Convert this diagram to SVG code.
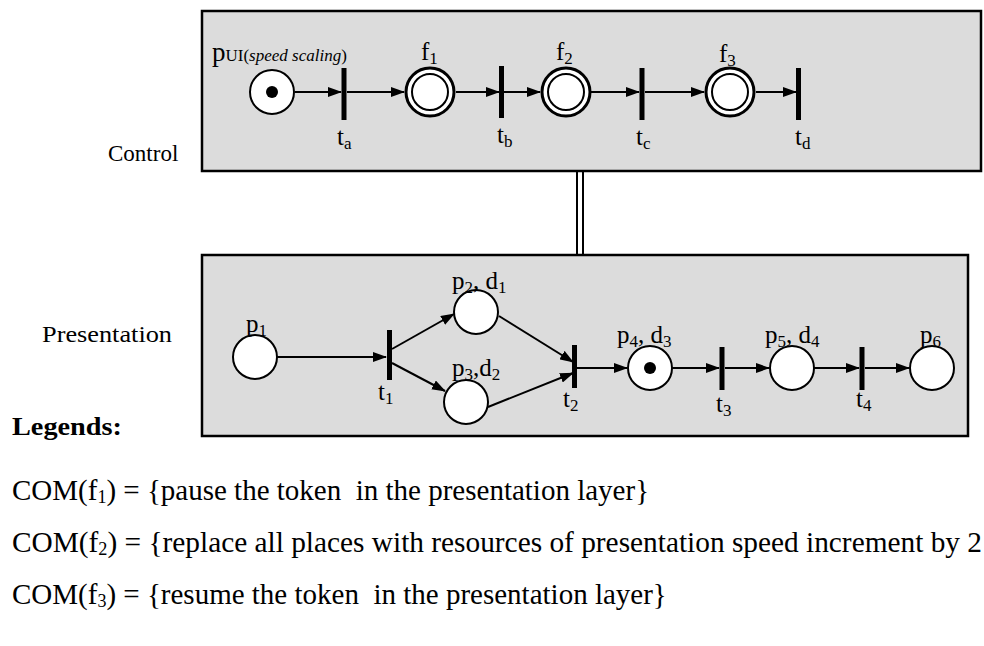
<svg xmlns="http://www.w3.org/2000/svg" width="984" height="646" viewBox="0 0 984 646">
<style>
text{font-family:"Liberation Serif","Times New Roman",serif;fill:#000}
.lbl{font-size:25px}
.sub{font-size:17px}
.box{fill:#dcdcdc;stroke:#000;stroke-width:2.5}
.pl{fill:#fff;stroke:#000;stroke-width:2}
.out{fill:#fff;stroke:#000;stroke-width:3}
.tr{fill:#000}
.arc{stroke:#000;stroke-width:2;fill:none;marker-end:url(#ah)}
.leg{font-size:29px}
.lsub{font-size:18px}
</style>
<defs>
<marker id="ah" markerWidth="14" markerHeight="10" refX="13" refY="5" orient="auto" markerUnits="userSpaceOnUse">
<path d="M0,0 L14,5 L0,10 Z" fill="#000"/>
</marker>
</defs>
<rect width="984" height="646" fill="#fff"/>
<g id="control-layer">
<rect class="box" x="202" y="11" width="779" height="160"/>
<text x="108" y="161" font-size="23">Control</text>
</g>
<g id="presentation-layer">
<rect class="box" x="202" y="255" width="766" height="181"/>
<text x="42" y="342" font-size="24" textLength="130" lengthAdjust="spacingAndGlyphs">Presentation</text>
</g>
<g id="link">
<line x1="577" y1="171" x2="577" y2="255" stroke="#000" stroke-width="2"/>
<line x1="583" y1="171" x2="583" y2="255" stroke="#000" stroke-width="2"/>
</g>
<g id="connectors">
<line class="arc" x1="295" y1="92" x2="341" y2="92"/>
<line class="arc" x1="347" y1="92" x2="404" y2="92"/>
<line class="arc" x1="456" y1="92" x2="499" y2="92"/>
<line class="arc" x1="504" y1="92" x2="540" y2="92"/>
<line class="arc" x1="591" y1="92" x2="639" y2="92"/>
<line class="arc" x1="645" y1="92" x2="704" y2="92"/>
<line class="arc" x1="756" y1="92" x2="796" y2="92"/>
<line class="arc" x1="277" y1="357" x2="386" y2="357"/>
<line class="arc" x1="392" y1="349" x2="454" y2="314"/>
<line class="arc" x1="392" y1="363" x2="445" y2="391"/>
<line class="arc" x1="499" y1="316" x2="573" y2="362"/>
<line class="arc" x1="488" y1="407" x2="573" y2="373"/>
<line class="arc" x1="577" y1="368" x2="627" y2="368"/>
<line class="arc" x1="672" y1="368" x2="719" y2="368"/>
<line class="arc" x1="725" y1="368" x2="769" y2="368"/>
<line class="arc" x1="814" y1="368" x2="859" y2="368"/>
<line class="arc" x1="865" y1="368" x2="909" y2="368"/>
</g>
<g id="pUI">
<circle class="pl" cx="272" cy="92" r="22"/>
<circle cx="272" cy="92" r="6" fill="#000"/>
<text x="212" y="61"><tspan font-size="27">p</tspan><tspan font-size="17">UI(</tspan><tspan font-size="17" font-style="italic">speed scaling</tspan><tspan font-size="17">)</tspan></text>
</g>
<g id="ta">
<rect class="tr" x="341.5" y="68" width="5" height="52"/>
<text class="lbl" x="337" y="145">t<tspan class="sub" dy="4">a</tspan></text>
</g>
<g id="f1">
<circle class="out" cx="430" cy="92" r="24"/>
<circle class="pl" cx="430" cy="92" r="18"/>
<text class="lbl" x="421" y="60">f<tspan class="sub" dy="4">1</tspan></text>
</g>
<g id="tb">
<rect class="tr" x="499" y="66" width="5" height="52"/>
<text class="lbl" x="497" y="143">t<tspan class="sub" dy="4">b</tspan></text>
</g>
<g id="f2">
<circle class="out" cx="566" cy="92" r="24"/>
<circle class="pl" cx="566" cy="92" r="18"/>
<text class="lbl" x="556" y="60">f<tspan class="sub" dy="4">2</tspan></text>
</g>
<g id="tc">
<rect class="tr" x="639.5" y="68" width="5" height="52"/>
<text class="lbl" x="636" y="145">t<tspan class="sub" dy="4">c</tspan></text>
</g>
<g id="f3">
<circle class="out" cx="730" cy="92" r="24"/>
<circle class="pl" cx="730" cy="92" r="18"/>
<text class="lbl" x="719" y="62">f<tspan class="sub" dy="4">3</tspan></text>
</g>
<g id="td">
<rect class="tr" x="796" y="68" width="5" height="52"/>
<text class="lbl" x="795" y="145">t<tspan class="sub" dy="4">d</tspan></text>
</g>
<g id="p1">
<circle class="pl" cx="255" cy="357" r="22"/>
<text class="lbl" x="246" y="332">p<tspan class="sub" dy="4">1</tspan></text>
</g>
<g id="t1">
<rect class="tr" x="387" y="330" width="5" height="50"/>
<text class="lbl" x="378" y="400">t<tspan class="sub" dy="4">1</tspan></text>
</g>
<g id="p2">
<circle class="pl" cx="476" cy="312" r="22"/>
<text class="lbl" x="452" y="289">p<tspan class="sub" dy="4">2</tspan><tspan dy="-4">, d</tspan><tspan class="sub" dy="4">1</tspan></text>
</g>
<g id="p3">
<circle class="pl" cx="466" cy="402" r="22"/>
<text class="lbl" x="452" y="376">p<tspan class="sub" dy="4">3</tspan><tspan dy="-4">,d</tspan><tspan class="sub" dy="4">2</tspan></text>
</g>
<g id="t2">
<rect class="tr" x="572" y="345" width="5" height="43"/>
<text class="lbl" x="563" y="407">t<tspan class="sub" dy="4">2</tspan></text>
</g>
<g id="p4">
<circle class="pl" cx="650" cy="368" r="22"/>
<circle cx="650" cy="368" r="6" fill="#000"/>
<text class="lbl" x="617" y="343">p<tspan class="sub" dy="4">4</tspan><tspan dy="-4">, d</tspan><tspan class="sub" dy="4">3</tspan></text>
</g>
<g id="t3">
<rect class="tr" x="719.5" y="347" width="5" height="43"/>
<text class="lbl" x="716" y="412">t<tspan class="sub" dy="4">3</tspan></text>
</g>
<g id="p5">
<circle class="pl" cx="792" cy="368" r="22"/>
<text class="lbl" x="765" y="343">p<tspan class="sub" dy="4">5</tspan><tspan dy="-4">, d</tspan><tspan class="sub" dy="4">4</tspan></text>
</g>
<g id="t4">
<rect class="tr" x="859.5" y="347" width="5" height="43"/>
<text class="lbl" x="856" y="407">t<tspan class="sub" dy="4">4</tspan></text>
</g>
<g id="p6">
<circle class="pl" cx="932" cy="368" r="22"/>
<text class="lbl" x="920" y="343">p<tspan class="sub" dy="4">6</tspan></text>
</g>
<g id="legend">
<text x="12" y="435" font-size="25" font-weight="bold" textLength="110" lengthAdjust="spacingAndGlyphs">Legends:</text>
<text class="leg" x="12" y="500" xml:space="preserve">COM(f<tspan class="lsub" dy="3">1</tspan><tspan dy="-3">) = {pause the token  in the presentation layer}</tspan></text>
<text class="leg" x="12" y="552" textLength="970" lengthAdjust="spacingAndGlyphs">COM(f<tspan class="lsub" dy="3">2</tspan><tspan dy="-3">) = {replace all places with resources of presentation speed increment by 2</tspan></text>
<text class="leg" x="12" y="604" xml:space="preserve">COM(f<tspan class="lsub" dy="3">3</tspan><tspan dy="-3">) = {resume the token  in the presentation layer}</tspan></text>
</g>
</svg>
